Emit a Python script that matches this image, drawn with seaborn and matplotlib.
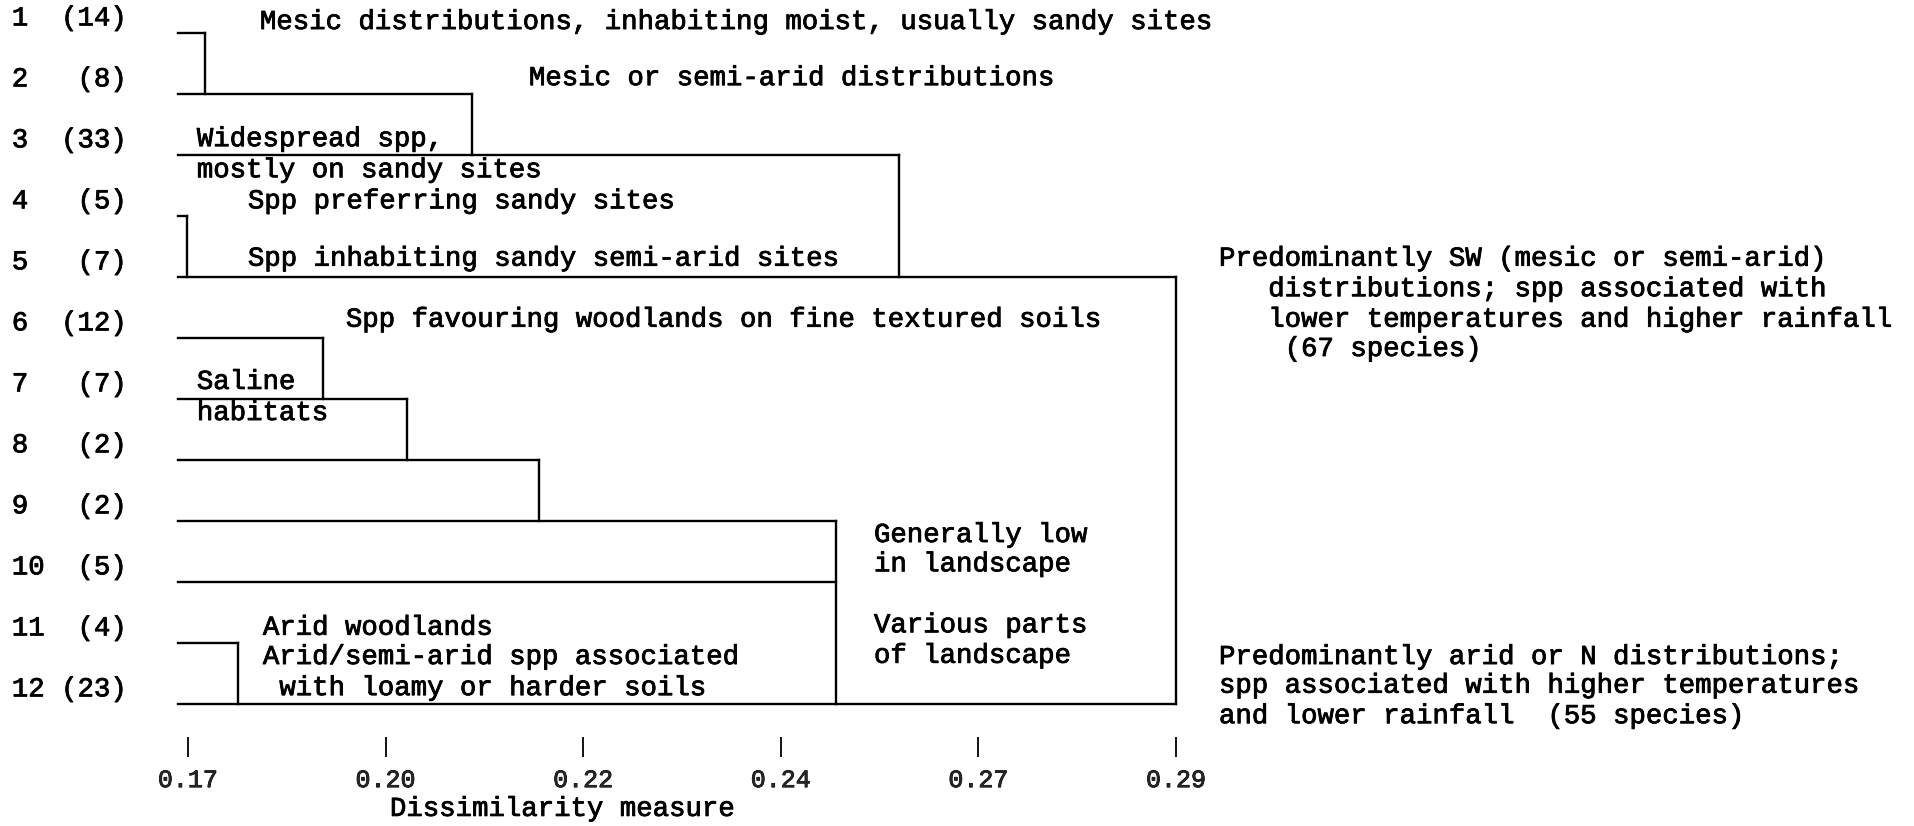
import numpy as np
import pandas as pd
import matplotlib
matplotlib.use("Agg")
import matplotlib.pyplot as plt
import matplotlib.patheffects as pe
import seaborn as sns

# ---- data -------------------------------------------------------------
group_ids = [1, 2, 3, 4, 5, 6, 7, 8, 9, 10, 11, 12]
group_sizes = [14, 8, 33, 5, 7, 12, 7, 2, 2, 5, 4, 23]

# fusion levels (dissimilarity) and the rows each fusion bracket spans
merge_height = [0.1721, 0.2045, 0.1699, 0.2564, 0.1864, 0.1966, 0.2126, 0.1761, 0.2487, 0.2900]
merge_top = [1, 2, 4, 3, 6, 7, 8, 11, 9, 5]
merge_bottom = [2, 3, 5, 5, 7, 8, 9, 12, 12, 12]

leaf_base = 0.1688  # where every group's line starts

tick_values = [0.17, 0.194, 0.218, 0.242, 0.266, 0.29]
tick_labels = ["0.17", "0.20", "0.22", "0.24", "0.27", "0.29"]

# ---- build line segments ----------------------------------------------
rows = []
seg = 0
top_level = max(merge_height)
for g in group_ids:
    spans = [h for h, t, b in zip(merge_height, merge_top, merge_bottom) if t <= g < b]
    end = min(spans) if spans else top_level
    rows += [(seg, leaf_base, g), (seg, end, g)]
    seg += 1
for h, t, b in zip(merge_height, merge_top, merge_bottom):
    rows += [(seg, h, t), (seg, h, b)]
    seg += 1
segments = pd.DataFrame(rows, columns=["seg", "dissim", "row"])

# ---- figure ------------------------------------------------------------
sns.set_style("white")
plt.rcParams["font.family"] = ["Liberation Mono", "DejaVu Sans Mono"]

fig = plt.figure(figsize=(19.15, 8.26), dpi=100)
ax = fig.add_axes([178 / 1915, (826 - 757) / 826, (1176 - 178) / 1915, 757 / 826])

sns.lineplot(data=segments, x="dissim", y="row", units="seg", estimator=None,
             sort=False, color="black", linewidth=1.7, legend=False, ax=ax)
for ln in ax.lines:
    ln.set_clip_on(False)
    ln.set_solid_capstyle("projecting")

ax.set_xlim(leaf_base, 0.29)
ax.set_ylim(12.869, 0.459)
for s in ax.spines.values():
    s.set_visible(False)
ax.set_yticks([])
ax.set_xticks(tick_values, tick_labels)
ax.tick_params(axis="x", direction="in", length=14.5, width=1.3, color="black",
               pad=8, labelsize=18, bottom=True)
ax.set_xlabel("")
ax.set_ylabel("")

ink = [pe.withStroke(linewidth=0.6, foreground="black")]
for lab in ax.get_xticklabels():
    lab.set_path_effects(ink)

FS = 19.7
txt = dict(color="black", fontsize=FS, va="center", ha="left", clip_on=False,
           path_effects=ink)

# group number / size labels
for g, n in zip(group_ids, group_sizes):
    ax.text(0.14862, g - 0.24, f"{g:<2d}{'(' + str(n) + ')':>5s}", **txt)

# cluster descriptions
notes = [
    (0.17875, 0.82, "Mesic distributions, inhabiting moist, usually sandy sites"),
    (0.21142, 1.74, "Mesic or semi-arid distributions"),
    (0.17109, 2.74, "Widespread spp,"),
    (0.17109, 3.25, "mostly on sandy sites"),
    (0.17729, 3.76, "Spp preferring sandy sites"),
    (0.17729, 4.70, "Spp inhabiting sandy semi-arid sites"),
    (0.18919, 5.70, "Spp favouring woodlands on fine textured soils"),
    (0.17109, 6.72, "Saline"),
    (0.17109, 7.23, "habitats"),
    (0.25332, 9.23, "Generally low"),
    (0.25332, 9.71, "in landscape"),
    (0.25332, 10.71, "Various parts"),
    (0.25332, 11.21, "of landscape"),
    (0.17911, 10.75, "Arid woodlands"),
    (0.17911, 11.23, "Arid/semi-arid spp associated"),
    (0.17911, 11.74, " with loamy or harder soils"),
    (0.29522, 4.70, "Predominantly SW (mesic or semi-arid)"),
    (0.29522, 5.20, "   distributions; spp associated with"),
    (0.29522, 5.70, "   lower temperatures and higher rainfall"),
    (0.29522, 6.18, "    (67 species)"),
    (0.29522, 11.23, "Predominantly arid or N distributions;"),
    (0.29522, 11.70, "spp associated with higher temperatures"),
    (0.29522, 12.20, "and lower rainfall  (55 species)"),
]
for x, y, s in notes:
    ax.text(x, y, s, **txt)

ax.text(0.21542, 13.72, "Dissimilarity measure", color="black", fontsize=FS,
        ha="center", va="center", clip_on=False, path_effects=ink)

fig.savefig("out.png", dpi=100, facecolor="white")
